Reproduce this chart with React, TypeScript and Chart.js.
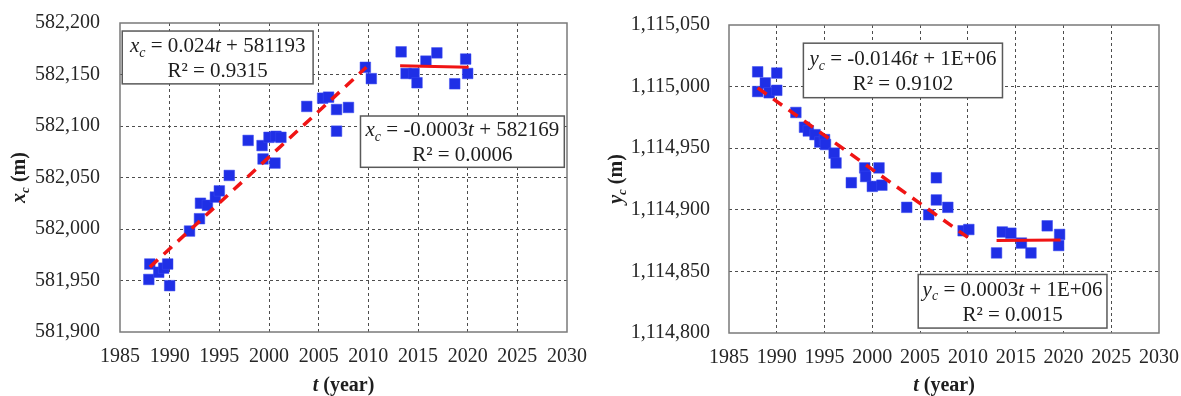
import React, { useEffect, useRef } from 'react';
import { Chart, registerables } from 'chart.js';

Chart.register(...registerables);

const FONT = "'Liberation Serif', 'Times New Roman', serif";

// ---------- shared axis ticks ----------
const yearTicks = [1985, 1990, 1995, 2000, 2005, 2010, 2015, 2020, 2025, 2030];
const xcTicks = [581900, 581950, 582000, 582050, 582100, 582150, 582200];
const ycTicks = [1114800, 1114850, 1114900, 1114950, 1115000, 1115050];

// ---------- left panel: x_c ----------
const xcYears = [
  1988.0, 1987.9, 1988.9, 1989.4, 1989.8, 1990.0,
  1992.0, 1993.0, 1993.1, 1993.8, 1994.6, 1995.0, 1996.0,
  1997.9, 1999.3, 1999.4, 2000.0, 2000.7, 2001.2, 2000.6,
  2003.8, 2005.4, 2006.0, 2006.8, 2006.8, 2008.0, 2009.7, 2010.3,
  2013.3, 2013.8, 2014.6, 2014.9, 2015.8, 2016.9, 2018.7, 2019.8, 2020.0,
];
const xcValues = [
  581966, 581951, 581958, 581962, 581966, 581945,
  581998, 582010, 582025, 582023, 582031, 582037, 582052,
  582086, 582081, 582068, 582089, 582090, 582089, 582064,
  582119, 582127, 582128, 582116, 582095, 582118, 582157, 582146,
  582172, 582151, 582151, 582142, 582163, 582171, 582141, 582165, 582151,
];
const xcTrend1Years = [1988.0, 2009.8];
const xcTrend1Values = [581963, 582157];
const xcTrend2Years = [2013.2, 2020.1];
const xcTrend2Values = [582158.5, 582157];

// ---------- right panel: y_c ----------
const ycYears = [
  1988.0, 1988.0, 1988.8, 1989.2, 1990.0, 1990.0,
  1992.0, 1992.9, 1993.3, 1994.0, 1994.5, 1995.0, 1995.1, 1996.0, 1996.2,
  1997.8, 1999.2, 1999.3, 2000.0, 2000.7, 2001.0,
  2003.6, 2005.9, 2006.7, 2006.7, 2007.9, 2009.5, 2010.1,
  2013.0, 2013.6, 2014.5, 2015.6, 2016.6, 2018.3, 2019.6, 2019.5,
];
const ycValues = [
  1115012, 1114996, 1115003, 1114995, 1115011, 1114997,
  1114979, 1114967, 1114964, 1114961, 1114955, 1114957, 1114953, 1114946, 1114938,
  1114922, 1114934, 1114927, 1114919, 1114934, 1114920,
  1114902, 1114896, 1114926, 1114908, 1114902, 1114883, 1114884,
  1114865, 1114882, 1114881, 1114873, 1114865, 1114887, 1114880, 1114871,
];
const ycTrend1Years = [1988.0, 2010.1];
const ycTrend1Values = [1114999, 1114877];
const ycTrend2Years = [2013.0, 2019.7];
const ycTrend2Values = [1114875, 1114875.5];

type Seg = { t: string; i?: boolean; sub?: boolean };
type Box = { fx0: number; fx1: number; fy0: number; fy1: number; lines: Seg[][] };

const leftBoxes: Box[] = [
  {
    fx0: 0.005, fx1: 0.432, fy0: 0.026, fy1: 0.197,
    lines: [
      [{ t: 'x', i: true }, { t: 'c', i: true, sub: true }, { t: ' = 0.024' }, { t: 't', i: true }, { t: ' + 581193' }],
      [{ t: 'R² = 0.9315' }],
    ],
  },
  {
    fx0: 0.538, fx1: 0.994, fy0: 0.301, fy1: 0.467,
    lines: [
      [{ t: 'x', i: true }, { t: 'c', i: true, sub: true }, { t: ' = -0.0003' }, { t: 't', i: true }, { t: ' + 582169' }],
      [{ t: 'R² = 0.0006' }],
    ],
  },
];

const rightBoxes: Box[] = [
  {
    fx0: 0.173, fx1: 0.636, fy0: 0.059, fy1: 0.236,
    lines: [
      [{ t: 'y', i: true }, { t: 'c', i: true, sub: true }, { t: ' = -0.0146' }, { t: 't', i: true }, { t: ' + 1E+06' }],
      [{ t: 'R² = 0.9102' }],
    ],
  },
  {
    fx0: 0.44, fx1: 0.879, fy0: 0.81, fy1: 0.984,
    lines: [
      [{ t: 'y', i: true }, { t: 'c', i: true, sub: true }, { t: ' = 0.0003' }, { t: 't', i: true }, { t: ' + 1E+06' }],
      [{ t: 'R² = 0.0015' }],
    ],
  },
];

function drawSegs(ctx: CanvasRenderingContext2D, segs: Seg[], cx: number, baseline: number, size: number, bold: boolean) {
  const fontFor = (s: Seg) =>
    `${s.i ? 'italic ' : ''}${bold ? 'bold ' : ''}${s.sub ? Math.round(size * 0.66) : size}px ${FONT}`;
  let total = 0;
  for (const s of segs) {
    ctx.font = fontFor(s);
    total += ctx.measureText(s.t).width;
  }
  let x = cx - total / 2;
  ctx.textAlign = 'left';
  ctx.textBaseline = 'alphabetic';
  for (const s of segs) {
    ctx.font = fontFor(s);
    ctx.fillText(s.t, x, baseline + (s.sub ? size * 0.22 : 0));
    x += ctx.measureText(s.t).width;
  }
}

const panelPlugin = {
  id: 'panel',
  beforeDatasetsDraw(chart: any, _args: any, opts: any) {
    const { ctx, chartArea: a } = chart;
    ctx.save();
    ctx.strokeStyle = '#7a7a7a';
    ctx.lineWidth = 1.5;
    ctx.setLineDash([]);
    ctx.strokeRect(a.left, a.top, a.right - a.left, a.bottom - a.top);
    ctx.restore();
  },
  afterDatasetsDraw(chart: any, _args: any, opts: any) {
    const { ctx, chartArea: a } = chart;
    const w = a.right - a.left;
    const h = a.bottom - a.top;
    ctx.save();
    ctx.fillStyle = '#1e1e1e';
    for (const b of opts.boxes as Box[]) {
      const x0 = a.left + b.fx0 * w;
      const x1 = a.left + b.fx1 * w;
      const y0 = a.top + b.fy0 * h;
      const y1 = a.top + b.fy1 * h;
      ctx.fillStyle = '#ffffff';
      ctx.fillRect(x0, y0, x1 - x0, y1 - y0);
      ctx.strokeStyle = '#595959';
      ctx.lineWidth = 1.5;
      ctx.setLineDash([]);
      ctx.strokeRect(x0, y0, x1 - x0, y1 - y0);
      ctx.fillStyle = '#1e1e1e';
      const cx = (x0 + x1) / 2;
      const cy = (y0 + y1) / 2;
      drawSegs(ctx, b.lines[0], cx, cy - 5.5, 21, false);
      drawSegs(ctx, b.lines[1], cx, cy + 19.5, 21, false);
    }
    // x-axis title
    drawSegs(ctx, [{ t: 't', i: true }, { t: ' (year)' }], (a.left + a.right) / 2, 391, 20, true);
    // y-axis title (rotated)
    ctx.translate(opts.yTitleX, (a.top + a.bottom) / 2);
    ctx.rotate(-Math.PI / 2);
    drawSegs(ctx, [{ t: opts.yVar, i: true }, { t: 'c', i: true, sub: true }, { t: ' (m)' }], 0, 7, 20, true);
    ctx.restore();
  },
};

type PanelProps = {
  width: number;
  left: number;
  areaLeft: number;
  areaRight: number;
  areaTop: number;
  areaBottom: number;
  years: number[];
  values: number[];
  t1Years: number[];
  t1Values: number[];
  t2Years: number[];
  t2Values: number[];
  yTicks: number[];
  boxes: Box[];
  yVar: string;
  yTitleX: number;
  yPad: number;
};

const HEIGHT = 396;

function Panel(p: PanelProps) {
  const ref = useRef<HTMLCanvasElement | null>(null);
  useEffect(() => {
    if (!ref.current) return;
    const pts = p.years.map((x, i) => ({ x, y: p.values[i] }));
    const t1 = p.t1Years.map((x, i) => ({ x, y: p.t1Values[i] }));
    const t2 = p.t2Years.map((x, i) => ({ x, y: p.t2Values[i] }));
    const gridColor = (n: number) => (c: any) =>
      c.index === 0 || c.index === n - 1 ? 'rgba(0,0,0,0)' : '#4d4d4d';
    const chart = new Chart(ref.current, {
      type: 'scatter',
      data: {
        datasets: [
          {
            data: t1,
            showLine: true,
            borderColor: '#f01414',
            borderWidth: 3.5,
            borderDash: [11, 8],
            pointRadius: 0,
            order: 1,
          },
          {
            data: t2,
            showLine: true,
            borderColor: '#f01414',
            borderWidth: 3,
            pointRadius: 0,
            order: 1,
          },
          {
            data: pts,
            showLine: false,
            pointStyle: 'rect',
            pointRadius: 7.5,
            backgroundColor: '#1f2fe6',
            borderColor: '#3a4af0',
            borderWidth: 0.5,
            order: 2,
          },
        ],
      },
      options: {
        animation: false,
        responsive: false,
        layout: {
          padding: { left: 0, top: p.areaTop, right: p.width - p.areaRight, bottom: 0 },
        },
        plugins: {
          legend: { display: false },
          tooltip: { enabled: false },
          panel: { boxes: p.boxes, yVar: p.yVar, yTitleX: p.yTitleX },
        } as any,
        scales: {
          x: {
            type: 'linear',
            min: yearTicks[0],
            max: yearTicks[yearTicks.length - 1],
            afterBuildTicks: (s: any) => {
              s.ticks = yearTicks.map((v) => ({ value: v }));
            },
            afterFit: (s: any) => {
              s.height = HEIGHT - p.areaBottom;
              s.paddingLeft = 0;
              s.paddingRight = 0;
            },
            ticks: {
              font: { family: FONT, size: 20 },
              color: '#262626',
              padding: 13,
              maxRotation: 0,
              autoSkip: false,
              callback: (v: any) => String(v),
            },
            grid: { color: gridColor(yearTicks.length), drawTicks: false, lineWidth: 1 },
            border: { display: false, dash: [3, 3] },
          },
          y: {
            type: 'linear',
            min: p.yTicks[0],
            max: p.yTicks[p.yTicks.length - 1],
            afterBuildTicks: (s: any) => {
              s.ticks = p.yTicks.map((v) => ({ value: v }));
            },
            afterFit: (s: any) => {
              s.width = p.areaLeft;
              s.paddingTop = 0;
              s.paddingBottom = 0;
            },
            ticks: {
              font: { family: FONT, size: 20 },
              color: '#262626',
              padding: p.yPad,
              autoSkip: false,
              callback: (v: any) => Number(v).toLocaleString('en-US'),
            },
            grid: { color: gridColor(p.yTicks.length), drawTicks: false, lineWidth: 1 },
            border: { display: false, dash: [3, 3] },
          },
        },
      } as any,
      plugins: [panelPlugin as any],
    });
    return () => chart.destroy();
  }, []);
  return (
    <canvas
      ref={ref}
      width={p.width}
      height={HEIGHT}
      style={{ position: 'absolute', left: p.left, top: 0, width: p.width, height: HEIGHT }}
    />
  );
}

export default function App() {
  return (
    <div style={{ position: 'fixed', left: 0, top: 0, width: 1181, height: HEIGHT, background: '#fff', overflow: 'hidden' }}>
      <Panel
        width={590}
        left={0}
        areaLeft={120}
        areaRight={567}
        areaTop={23}
        areaBottom={332}
        years={xcYears}
        values={xcValues}
        t1Years={xcTrend1Years}
        t1Values={xcTrend1Values}
        t2Years={xcTrend2Years}
        t2Values={xcTrend2Values}
        yTicks={xcTicks}
        boxes={leftBoxes}
        yVar="x"
        yTitleX={18}
        yPad={20}
      />
      <Panel
        width={591}
        left={590}
        areaLeft={139}
        areaRight={569}
        areaTop={25}
        areaBottom={333}
        years={ycYears}
        values={ycValues}
        t1Years={ycTrend1Years}
        t1Values={ycTrend1Values}
        t2Years={ycTrend2Years}
        t2Values={ycTrend2Values}
        yTicks={ycTicks}
        boxes={rightBoxes}
        yVar="y"
        yTitleX={25}
        yPad={19}
      />
    </div>
  );
}
